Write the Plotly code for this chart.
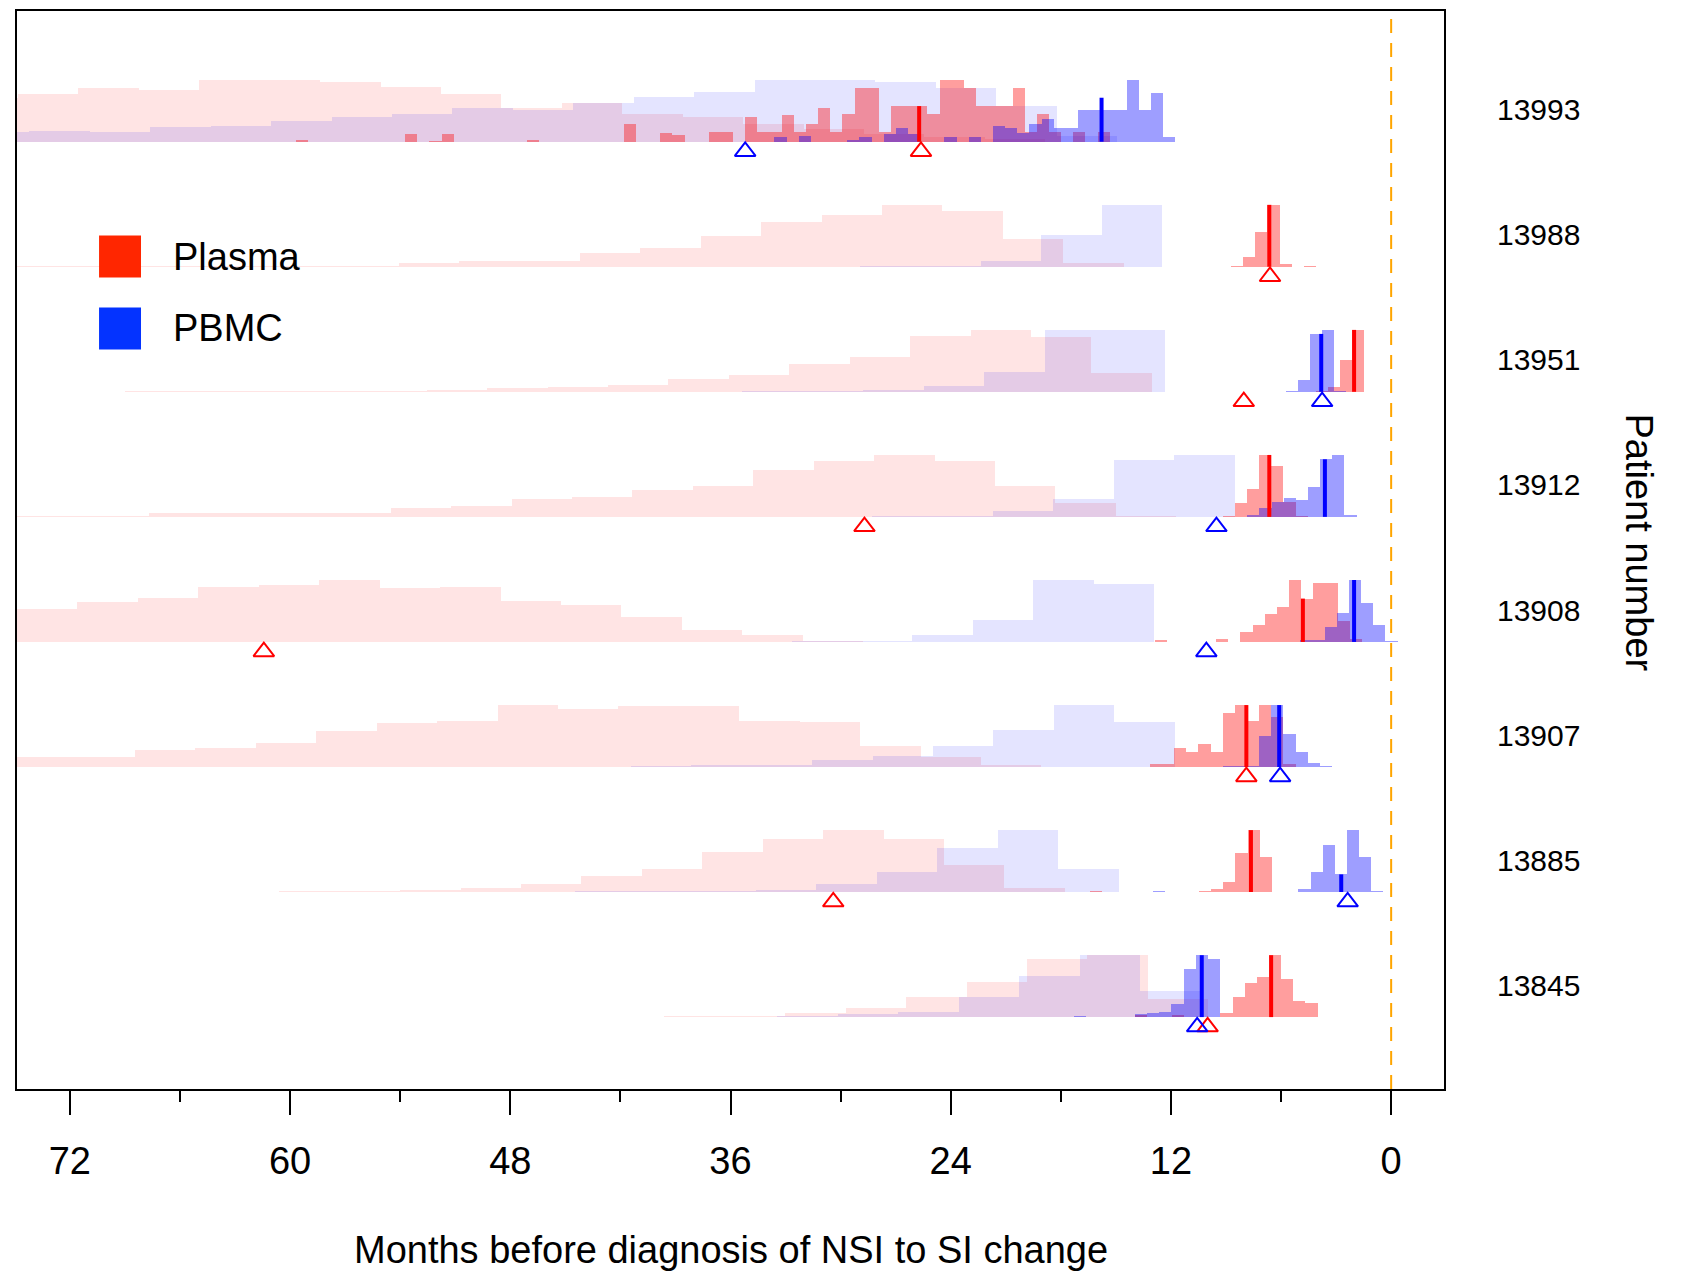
import plotly.graph_objects as go

# ---------------- data ----------------
patients = ["13993", "13988", "13951", "13912", "13908", "13907", "13885", "13845"]

PRIOR_W = 3.293   # months per prior bin
POST_W = 0.662    # months per posterior bin

# left (oldest) edge of first bin, in months before diagnosis
prior_plasma_start = [78.12, 77.14, 72.31, 77.57, 78.17, 78.33, 70.47, 56.07]
prior_plasma = [
    [0.70, 0.77, 0.86, 0.84, 0.99, 1.00, 0.96, 0.88, 0.77, 0.54, 0.63, 0.45, 0.40, 0.28, 0.20, 0.12, 0.08, 0.04],
    [0.01, 0.01, 0.01, 0.005, 0.01, 0.015, 0.02, 0.06, 0.085, 0.10, 0.215, 0.30, 0.50, 0.72, 0.84, 1.00, 0.90, 0.45, 0.055],
    [0.003, 0.005, 0.005, 0.01, 0.01, 0.015, 0.03, 0.065, 0.08, 0.11, 0.20, 0.275, 0.45, 0.555, 0.90, 1.00, 0.88, 0.305],
    [0.01, 0.015, 0.015, 0.055, 0.065, 0.065, 0.07, 0.145, 0.18, 0.29, 0.32, 0.435, 0.50, 0.76, 0.90, 1.00, 0.90, 0.50, 0.23, 0.01],
    [0.50, 0.525, 0.64, 0.71, 0.88, 0.915, 1.00, 0.865, 0.89, 0.66, 0.595, 0.41, 0.195, 0.11, 0.015, 0.005],
    [0.15, 0.155, 0.165, 0.275, 0.31, 0.39, 0.58, 0.715, 0.745, 0.995, 0.935, 0.985, 0.98, 0.745, 0.73, 0.345, 0.165, 0.03],
    [0.005, 0.005, 0.0, 0.015, 0.02, 0.04, 0.065, 0.13, 0.26, 0.375, 0.64, 0.855, 1.00, 0.85, 0.435, 0.06],
    [0.005, 0.0, 0.005, 0.005, 0.005, 0.01, 0.025, 0.07, 0.145, 0.32, 0.575, 0.935, 1.00, 0.30],
]

prior_pbmc_start = [77.50, 28.95, 35.35, 31.58, 32.67, 48.02, 44.49, 36.74]
prior_pbmc = [
    [0.16, 0.18, 0.15, 0.23, 0.26, 0.33, 0.40, 0.45, 0.54, 0.52, 0.62, 0.72, 0.81, 1.00, 1.00, 0.96, 0.86, 0.57, 0.10],
    [0.01, 0.02, 0.09, 0.51, 1.00],
    [0.005, 0.01, 0.027, 0.097, 0.32, 1.00, 1.00],
    [0.005, 0.01, 0.015, 0.097, 0.295, 0.915, 1.00],
    [0.01, 0.015, 0.11, 0.36, 1.00, 0.935],
    [0.005, 0.005, 0.02, 0.03, 0.03, 0.11, 0.18, 0.34, 0.60, 1.00, 0.72],
    [0.01, 0.01, 0.015, 0.03, 0.13, 0.32, 0.705, 1.00, 0.37, 0.005],
    [0.005, 0.01, 0.045, 0.085, 0.32, 0.665, 1.00, 0.425],
]

post_plasma_start = [59.69, 8.73, 4.11, 9.18, 12.85, 13.15, 16.43, 13.94]
post_plasma = [
    [0.03, 0, 0, 0, 0, 0, 0, 0, 0, 0.13, 0, 0.01, 0.13, 0, 0, 0, 0, 0, 0, 0.03, 0, 0, 0, 0, 0, 0, 0,
     0.29, 0, 0, 0.14, 0.11, 0, 0, 0.15, 0.15, 0,
     0.40, 0.15, 0.15, 0.43, 0.15, 0.29, 0.55, 0.15, 0.44, 0.87,
     0.87, 0.15, 0.58, 0.58, 0.58, 0.44, 1.00, 1.00, 0.86, 0.58,
     0.58, 0.58, 0.87, 0.15, 0.44, 0.15, 0, 0.15, 0, 0.15],
    [0.01, 0.16, 0.56, 1.00, 0.05, 0, 0.01],
    [0.015, 0.07, 0.515, 1.00],
    [0.01, 0.225, 0.45, 1.00, 0.82, 0.24, 0.015],
    [0.03, 0, 0, 0, 0, 0.05, 0, 0.16, 0.27, 0.45, 0.565, 0.995, 0.70, 0.945, 0.945, 0.33, 0.05],
    [0.055, 0.055, 0.30, 0.245, 0.37, 0.245, 0.865, 1.00, 0.745, 1.00, 0.80, 0.05],
    [0.02, 0, 0, 0, 0, 0, 0, 0, 0, 0.015, 0.05, 0.17, 0.63, 1.00, 0.565],
    [0.03, 0, 0, 0.035, 0, 0, 0, 0.07, 0.32, 0.555, 0.645, 1.00, 0.62, 0.26, 0.22],
]

post_pbmc_start = [33.61, None, 5.75, 7.84, 4.95, 9.18, 13.00, 17.27]
post_pbmc = [
    [0.07, 0, 0.09, 0, 0, 0, 0.03, 0.08, 0, 0.13,
     0.22, 0.13, 0, 0, 0.07, 0, 0.07, 0, 0.26, 0.22,
     0.14, 0.29, 0.36, 0.22, 0.22, 0.51, 0.51, 0.51, 0.51, 1.00,
     0.51, 0.79, 0.08],
    [],
    [0.01, 0.195, 0.935, 1.00, 0.01],
    [0.03, 0.14, 0.24, 0.30, 0.27, 0.48, 0.93, 1.00, 0.03],
    [0.03, 0.03, 0.24, 0.46, 1.00, 0.63, 0.27, 0.015],
    [0.01, 0.01, 0.01, 0.50, 1.00, 0.535, 0.25, 0.065, 0.015],
    [0.015, 0, 0, 0, 0, 0, 0, 0, 0, 0, 0.005, 0.005, 0.055, 0.32, 0.755, 0.285, 1.00, 0.57, 0.01],
    [0.01, 0, 0, 0, 0, 0.05, 0.06, 0.085, 0.21, 0.77, 1.00, 0.935],
]

median_plasma = [25.72, 6.64, 2.02, 6.64, 4.81, 7.89, 7.64, 6.54]
median_plasma_h = [0.575, 1.00, 1.00, 1.00, 0.70, 1.00, 1.00, 1.00]
median_pbmc = [15.78, None, 3.81, 3.61, 2.02, 6.10, 2.72, 10.32]
median_pbmc_h = [0.71, None, 0.935, 0.93, 1.00, 1.00, 0.285, 1.00]

obs_plasma = [25.62, 6.60, 8.03, 28.70, 61.43, 7.89, 30.40, 10.00]
obs_pbmc = [35.20, None, 3.76, 9.52, 10.07, 6.05, 2.37, 10.57]

x_ticks = [72, 60, 48, 36, 24, 12, 0]
x_minor = [66, 54, 42, 30, 18, 6]

# ---------------- build ----------------
N = len(patients)
HT = 0.495          # tallest bar height, in row units
FONT = "Liberation Sans, Arial, Helvetica, sans-serif"


def baseline(i):
    return N - i


def bars(starts, heights, w):
    xs, ys, bs = [], [], []
    for i, (s, hs) in enumerate(zip(starts, heights)):
        if s is None:
            continue
        for k, h in enumerate(hs):
            if h <= 0:
                continue
            xs.append(s - (k + 0.5) * w)
            ys.append(h * HT)
            bs.append(baseline(i))
    return xs, ys, bs


fig = go.Figure()

for starts, hs, w, col in [
    (prior_plasma_start, prior_plasma, PRIOR_W, "rgba(255,0,0,0.105)"),
    (prior_pbmc_start, prior_pbmc, PRIOR_W, "rgba(0,0,255,0.105)"),
    (post_plasma_start, post_plasma, POST_W, "rgba(255,0,0,0.38)"),
    (post_pbmc_start, post_pbmc, POST_W, "rgba(0,0,255,0.38)"),
]:
    xs, ys, bs = bars(starts, hs, w)
    fig.add_trace(go.Bar(x=xs, y=ys, base=bs, width=w,
                         marker=dict(color=col, line=dict(width=0)),
                         showlegend=False, hoverinfo="skip"))


def median_lines(ms, hs, color):
    xs, ys = [], []
    for i, (m, h) in enumerate(zip(ms, hs)):
        if m is None:
            continue
        xs += [m, m, None]
        ys += [baseline(i), baseline(i) + h * HT, None]
    fig.add_trace(go.Scatter(x=xs, y=ys, mode="lines",
                             line=dict(color=color, width=4),
                             showlegend=False, hoverinfo="skip"))


median_lines(median_plasma, median_plasma_h, "#FF0000")
median_lines(median_pbmc, median_pbmc_h, "#0000FF")


def triangles(vals, color):
    xs, ys = [], []
    for i, v in enumerate(vals):
        if v is None:
            continue
        xs.append(v)
        ys.append(baseline(i) - 0.078)
    fig.add_trace(go.Scatter(x=xs, y=ys, mode="markers",
                             marker=dict(symbol="triangle-up-open", size=18,
                                         color=color, line=dict(color=color, width=2)),
                             showlegend=False, hoverinfo="skip"))


triangles(obs_plasma, "#FF0000")
triangles(obs_pbmc, "#0000FF")

annotations = []
for i, p in enumerate(patients):
    annotations.append(dict(x=1.0357, xref="paper", y=baseline(i) + 0.255, yref="y",
                            text=p, showarrow=False, xanchor="left", yanchor="middle",
                            font=dict(size=30, color="black", family=FONT)))
annotations.append(dict(x=1.137, xref="paper", y=0.5065, yref="paper",
                        text="Patient number", textangle=90, showarrow=False,
                        xanchor="center", yanchor="middle",
                        font=dict(size=38, color="black", family=FONT)))
annotations.append(dict(x=0.5, xref="paper", y=-0.149, yref="paper",
                        text="Months before diagnosis of NSI to SI change", showarrow=False,
                        xanchor="center", yanchor="middle",
                        font=dict(size=38, color="black", family=FONT)))
# legend
annotations.append(dict(x=0.1077, xref="paper", y=0.7722, yref="paper", text="Plasma",
                        showarrow=False, xanchor="left", yanchor="middle",
                        font=dict(size=38, color="black", family=FONT)))
annotations.append(dict(x=0.1077, xref="paper", y=0.7056, yref="paper", text="PBMC",
                        showarrow=False, xanchor="left", yanchor="middle",
                        font=dict(size=38, color="black", family=FONT)))

shapes = [
    dict(type="line", xref="x", yref="paper", x0=0, x1=0, y0=0, y1=1,
         line=dict(color="#FFA500", width=2, dash="14px,10px")),
    dict(type="rect", xref="paper", yref="paper", x0=0.0575, x1=0.0869, y0=0.7528, y1=0.7917,
         fillcolor="#FF2600", line=dict(width=0)),
    dict(type="rect", xref="paper", yref="paper", x0=0.0575, x1=0.0869, y0=0.6861, y1=0.7250,
         fillcolor="#0433FF", line=dict(width=0)),
]

fig.update_layout(
    width=1689, height=1272,
    margin=dict(l=17, r=245, t=9, b=183),
    paper_bgcolor="white", plot_bgcolor="white",
    barmode="overlay", bargap=0,
    showlegend=False,
    annotations=annotations, shapes=shapes,
    font=dict(family=FONT, color="black"),
    xaxis=dict(range=[74.88, -2.88], tickvals=x_ticks, ticktext=[str(v) for v in x_ticks],
               ticks="outside", ticklen=24, tickwidth=2, tickcolor="black",
               minor=dict(tickvals=x_minor, ticks="outside", ticklen=11, tickwidth=2, tickcolor="black"),
               showgrid=False, zeroline=False, showline=True, linecolor="black", linewidth=2,
               mirror=True, tickfont=dict(size=38, family=FONT, color="black"),
               ticklabelstandoff=13),
    yaxis=dict(range=[0.425, 9.045], showticklabels=False, ticks="", showgrid=False,
               zeroline=False, showline=True, linecolor="black", linewidth=2, mirror=True),
)

fig.write_html("out.html", config={"displayModeBar": False},
               post_script="document.body.style.margin='0px';document.body.style.overflow='hidden';")
